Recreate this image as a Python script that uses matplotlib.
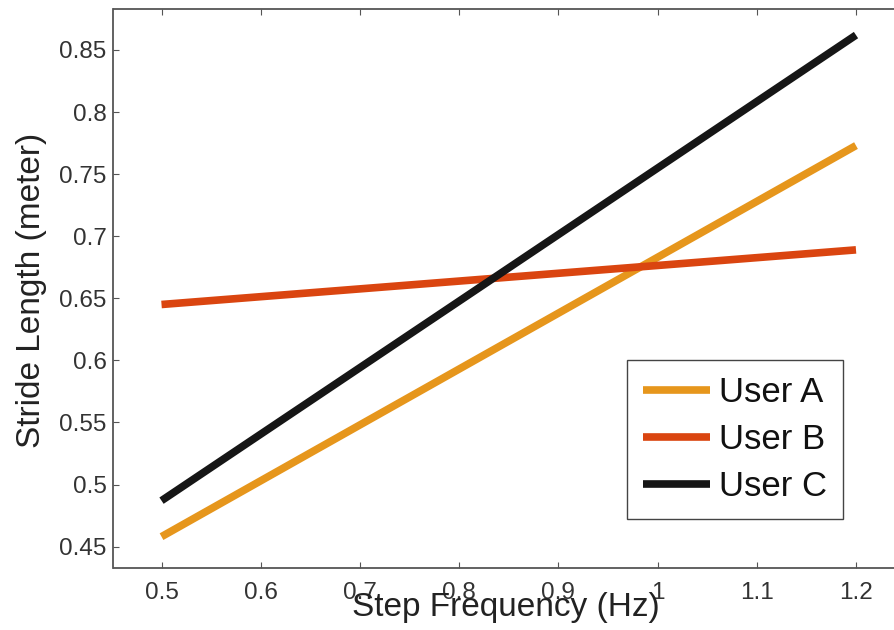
import numpy as np
import matplotlib
matplotlib.use('Agg')
import matplotlib.pyplot as plt

# Data (linear fits: endpoints at 0.5 Hz and 1.2 Hz)
step_freq = [0.5, 1.2]
user_a = [0.458, 0.773]
user_b = [0.645, 0.689]
user_c = [0.487, 0.862]
series_names = ['User A', 'User B', 'User C']
series_colors = ['#E6961C', '#DA4510', '#161616']

x_ticks = [0.5, 0.6, 0.7, 0.8, 0.9, 1.0, 1.1, 1.2]
x_tick_labels = ['0.5', '0.6', '0.7', '0.8', '0.9', '1', '1.1', '1.2']
y_ticks = [0.45, 0.5, 0.55, 0.6, 0.65, 0.7, 0.75, 0.8, 0.85]
y_tick_labels = ['0.45', '0.5', '0.55', '0.6', '0.65', '0.7', '0.75', '0.8', '0.85']

plt.rcParams['font.family'] = ['Liberation Sans', 'DejaVu Sans']

W, H = 895, 630
fig = plt.figure(figsize=(W / 100, H / 100), dpi=100)

# axes box in pixels (right edge runs past the image, as in the reference)
left, right, top, bottom = 113.5, 905.6, 9.0, 567.7
ax_w, ax_h = right - left, bottom - top
ax = fig.add_axes([left / W, (H - bottom) / H, ax_w / W, ax_h / H])

for vals, name, color in zip([user_a, user_b, user_c], series_names, series_colors):
    ax.plot(step_freq, vals, color=color, linewidth=5.5, label=name,
            solid_capstyle='butt')

ax.set_xlim(0.4516, 1.25)
ax.set_ylim(0.433, 0.883)
ax.set_xticks(x_ticks)
ax.set_xticklabels(x_tick_labels)
ax.set_yticks(y_ticks)
ax.set_yticklabels(y_tick_labels)

ax.tick_params(direction='in', top=True, right=True, length=4, width=0.8,
               color='#555555', labelcolor='#333333', labelsize=17.5)
ax.tick_params(axis='x', pad=10)
ax.tick_params(axis='y', pad=5)
for sp in ax.spines.values():
    sp.set_color('#555555')
    sp.set_linewidth(1.3)

# labels overlap the tick labels a little, like the original
ax.set_xlabel('Step Frequency (Hz)', fontsize=24, color='#222222')
ax.xaxis.set_label_coords((506 - left) / ax_w, -(592 - bottom) / ax_h)
ax.set_ylabel('Stride Length (meter)', fontsize=24, color='#222222')
ax.yaxis.set_label_coords(-(left - 47) / ax_w, (bottom - 290) / ax_h)

leg = ax.legend(loc='upper left', bbox_to_anchor=(627 / W, 1 - 360 / H),
                bbox_transform=fig.transFigure, borderaxespad=0,
                fontsize=25, frameon=True, fancybox=False, framealpha=1,
                edgecolor='#444444', handlelength=1.93, handletextpad=0.26,
                labelspacing=0.4, borderpad=0.46)
leg.get_frame().set_linewidth(1.0)
for t in leg.get_texts():
    t.set_color('#111111')

fig.savefig('out.png', dpi=100)
